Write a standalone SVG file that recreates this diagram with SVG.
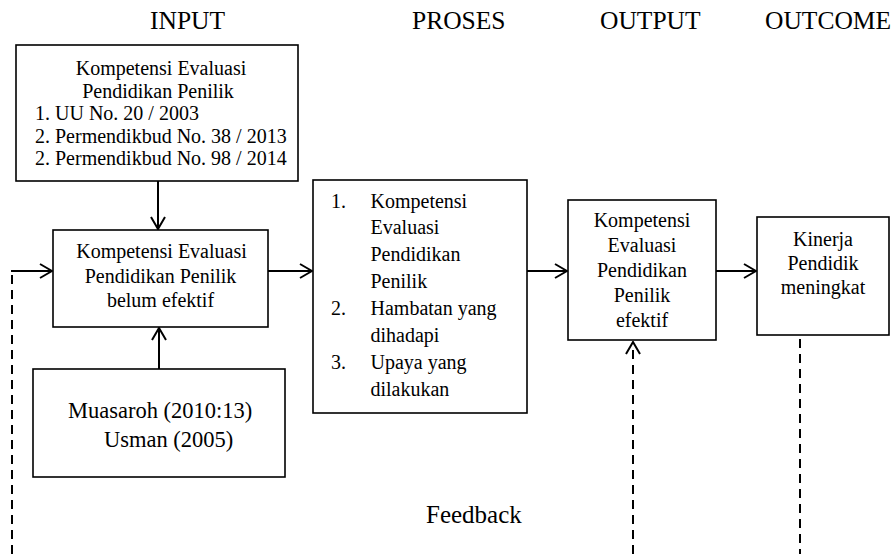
<svg xmlns="http://www.w3.org/2000/svg" width="895" height="554" viewBox="0 0 895 554">
<style>
.h{font-size:25.5px}
.t{font-size:20px}
.m{text-anchor:middle}
.box{fill:#fff;stroke:#000;stroke-width:1.6}
.ln{fill:none;stroke:#000;stroke-width:2}
.ds{fill:none;stroke:#000;stroke-width:2;stroke-dasharray:9 6}
</style>
<defs>
<marker id="ah" viewBox="0 0 14 16" refX="13" refY="8" markerWidth="14" markerHeight="16" markerUnits="userSpaceOnUse" orient="auto">
<path d="M1 1 L13 8 L1 15" fill="none" stroke="#000" stroke-width="2"/>
</marker>
</defs>
<rect width="895" height="554" fill="#fff"/>
<g font-family="'Liberation Serif', 'Times New Roman', 'DejaVu Serif', serif" fill="#000">
<g id="headers">
<text class="h" x="150" y="29">INPUT</text>
<text class="h" x="412" y="29">PROSES</text>
<text class="h" x="600" y="29">OUTPUT</text>
<text class="h" x="765" y="29">OUTCOME</text>
</g>
<g id="connectors">
<line class="ln" x1="158" y1="181" x2="158" y2="229" marker-end="url(#ah)"/>
<line class="ln" x1="159" y1="369" x2="159" y2="328" marker-end="url(#ah)"/>
<line class="ln" x1="268" y1="271" x2="312" y2="271" marker-end="url(#ah)"/>
<line class="ln" x1="527" y1="271" x2="567" y2="271" marker-end="url(#ah)"/>
<line class="ln" x1="716" y1="271" x2="756" y2="271" marker-end="url(#ah)"/>
<line class="ds" x1="12" y1="554" x2="12" y2="272"/>
<line class="ln" x1="11" y1="271" x2="52" y2="271" marker-end="url(#ah)"/>
<line class="ds" x1="633" y1="554" x2="633" y2="342" marker-end="url(#ah)"/>
<line class="ds" x1="800" y1="339" x2="800" y2="554"/>
</g>
<g id="n-dasar">
<rect class="box" x="16" y="45" width="282" height="136"/>
<text class="t m" x="161" y="75">Kompetensi Evaluasi</text>
<text class="t m" x="158" y="97.5">Pendidikan Penilik</text>
<text class="t" x="35" y="120">1. UU No. 20 / 2003</text>
<text class="t" x="35" y="142.5">2. Permendikbud No. 38 / 2013</text>
<text class="t" x="35" y="165">2. Permendikbud No. 98 / 2014</text>
</g>
<g id="n-input">
<rect class="box" x="53" y="230" width="215" height="97"/>
<text class="t m" x="161.5" y="258">Kompetensi Evaluasi</text>
<text class="t m" x="160.5" y="282.5">Pendidikan Penilik</text>
<text class="t m" x="160.5" y="307">belum efektif</text>
</g>
<g id="n-teori">
<rect class="box" x="33" y="369" width="252" height="108"/>
<text x="68" y="418" font-size="22.5">Muasaroh (2010:13)</text>
<text x="104" y="446.5" font-size="22.5">Usman (2005)</text>
</g>
<g id="n-proses">
<rect class="box" x="313" y="180" width="214" height="233"/>
<text class="t" x="331" y="207.5">1.</text>
<text class="t" x="370.5" y="207.5">Kompetensi</text>
<text class="t" x="370.5" y="234.4">Evaluasi</text>
<text class="t" x="370.5" y="261.2">Pendidikan</text>
<text class="t" x="370.5" y="288.1">Penilik</text>
<text class="t" x="331" y="315">2.</text>
<text class="t" x="370.5" y="315">Hambatan yang</text>
<text class="t" x="370.5" y="341.8">dihadapi</text>
<text class="t" x="331" y="368.7">3.</text>
<text class="t" x="370.5" y="368.7">Upaya yang</text>
<text class="t" x="370.5" y="395.5">dilakukan</text>
</g>
<g id="n-output">
<rect class="box" x="568" y="200" width="148" height="140"/>
<text class="t m" x="642" y="226.7">Kompetensi</text>
<text class="t m" x="642" y="251.7">Evaluasi</text>
<text class="t m" x="642" y="276.7">Pendidikan</text>
<text class="t m" x="642" y="301.7">Penilik</text>
<text class="t m" x="642" y="326.7">efektif</text>
</g>
<g id="n-outcome">
<rect class="box" x="757" y="217" width="132" height="118"/>
<text class="t m" x="823" y="245.5">Kinerja</text>
<text class="t m" x="823" y="269.5">Pendidik</text>
<text class="t m" x="823" y="293.5">meningkat</text>
</g>
<g id="feedback">
<text x="426" y="523" font-size="25">Feedback</text>
</g>
</g>
</svg>
